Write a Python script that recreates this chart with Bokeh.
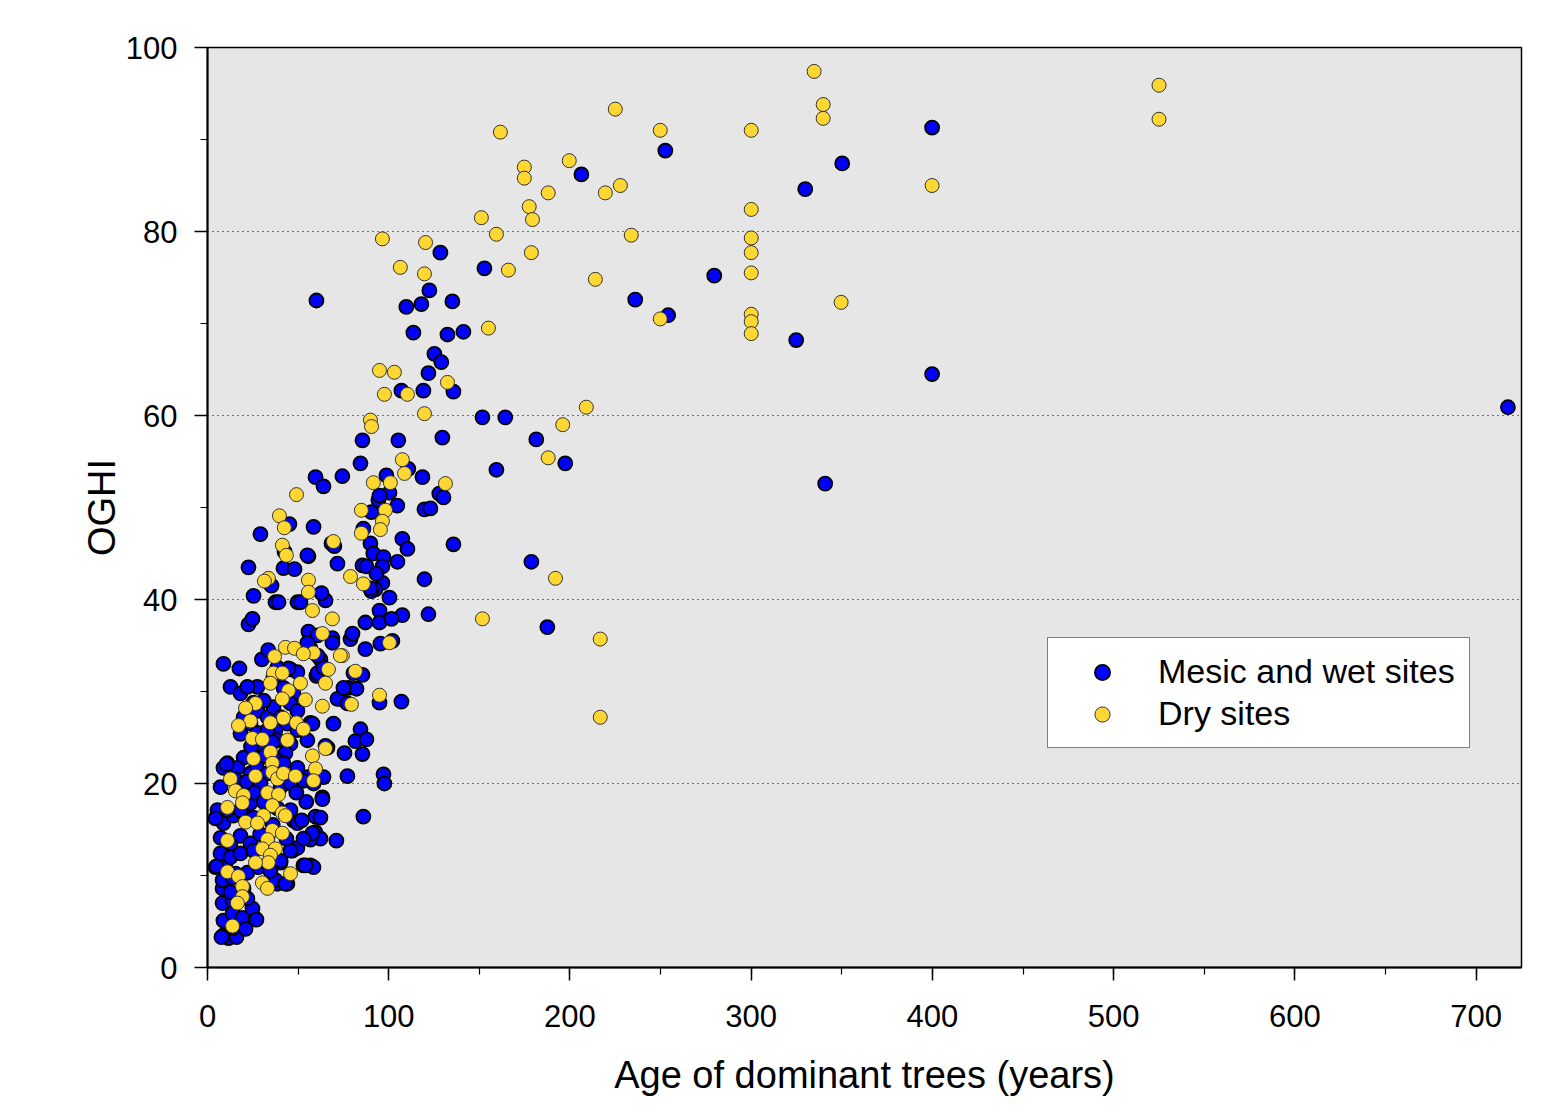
from bokeh.plotting import figure
from bokeh.models import ColumnDataSource, SingleIntervalTicker, Legend, LegendItem
from bokeh.embed import file_html
from bokeh.resources import INLINE

# Stand age (years) and OGHI score per site, split by moisture class.
mesic_sites = [
    # older stands
    (399.8, 91.3), (252.6, 88.8), (350.2, 87.4), (206.3, 86.2), (329.8, 84.6), (128.5, 77.7),
    (152.8, 76.0), (279.6, 75.2), (122.4, 73.6), (60.1, 72.5), (236.0, 72.6), (135.1, 72.4),
    (109.7, 71.8), (118.0, 72.1), (254.2, 70.9), (113.6, 69.0), (132.4, 68.8), (141.2, 69.1),
    (324.8, 68.2), (125.2, 66.7), (129.0, 65.8), (121.9, 64.6), (399.8, 64.5), (107.0, 62.7),
    (119.1, 62.7), (135.7, 62.6), (717.5, 60.9), (151.7, 59.8), (164.3, 59.8), (85.5, 57.3),
    (105.3, 57.3), (129.6, 57.6), (181.4, 57.4), (197.4, 54.8), (159.4, 54.1), (59.6, 53.3),
    (64.0, 52.3), (74.4, 53.4), (84.4, 54.8), (98.7, 53.5), (110.8, 54.2), (118.6, 53.3),
    (340.8, 52.6), (127.9, 51.5), (130.2, 51.1), (100.4, 51.6), (94.3, 50.8), (104.7, 50.2),
    (119.7, 49.8), (123.0, 49.9), (135.7, 46.0), (107.5, 46.6), (110.3, 45.5), (178.7, 44.1),
    (119.7, 42.2), (121.9, 38.4), (187.5, 37.0), (107.0, 28.9), (86.0, 16.4),
    # middle-aged stands
    (22.6, 37.3), (24.8, 37.9), (25.4, 40.4), (22.6, 43.5), (29.2, 47.1), (37.5, 39.7),
    (39.2, 39.7), (49.6, 39.7), (51.3, 39.7), (65.1, 39.9), (62.9, 40.7), (55.7, 44.7),
    (41.9, 43.4), (48.0, 43.3), (35.3, 41.5), (58.5, 47.9), (45.2, 48.2), (71.7, 43.9),
    (69.5, 45.9), (55.7, 36.5), (68.9, 35.8), (60.1, 31.7), (62.3, 33.5), (45.8, 32.4),
    (86.0, 47.7), (89.9, 46.1), (91.5, 45.0), (97.1, 44.6), (104.8, 44.1), (96.5, 41.8),
    (100.4, 40.2), (94.9, 38.8), (107.5, 38.3), (94.9, 37.5), (101.5, 37.9), (87.1, 37.5),
    (87.1, 34.6), (95.4, 35.2), (102.0, 35.5), (78.9, 35.7), (80.0, 36.3), (90.4, 49.5),
    (96.5, 43.6), (92.6, 41.1), (90.4, 40.9), (85.5, 43.7), (87.7, 43.6), (93.2, 42.8),
    (94.9, 51.3), (42.5, 45.2), (55.1, 44.8), (68.4, 46.1), (70.0, 45.8), (89.9, 41.2),
    (60.7, 36.1), (80.5, 32.0), (85.5, 31.8), (77.8, 30.4), (82.2, 30.3), (94.9, 28.8),
    (73.3, 29.2), (84.4, 25.9), (81.6, 24.6), (87.7, 24.8), (75.6, 23.3), (85.5, 23.2),
    (77.2, 20.8), (97.1, 21.0), (97.6, 20.0),
    # young stands
    (8.8, 33.0), (17.6, 32.5), (12.7, 30.5), (18.2, 29.8), (25.4, 28.8), (27.6, 27.9),
    (19.9, 27.2), (23.7, 26.5), (18.2, 25.4), (27.6, 25.5), (33.1, 27.2), (37.5, 25.8),
    (44.1, 26.5), (38.6, 24.7), (33.1, 24.3), (28.1, 23.9), (45.8, 24.3), (55.1, 24.7),
    (56.8, 26.6), (43.0, 23.3), (38.6, 22.5), (29.2, 22.8), (19.9, 22.8), (11.0, 22.2),
    (8.8, 21.7), (16.5, 21.7), (23.7, 21.1), (33.1, 21.1), (41.9, 22.2), (49.6, 21.7),
    (55.1, 20.7), (64.0, 20.7), (7.2, 19.6), (19.9, 19.6), (29.2, 20.0), (40.3, 19.6),
    (45.8, 20.0), (52.9, 20.3), (58.5, 20.0), (63.4, 18.5), (71.7, 29.2), (77.2, 28.7),
    (60.7, 32.0), (64.0, 32.6), (49.6, 32.1), (44.7, 32.5), (38.6, 32.6), (36.4, 31.5),
    (41.9, 30.4), (47.4, 29.8), (45.8, 28.7), (49.6, 27.9), (36.4, 28.3), (40.3, 27.2),
    (33.1, 25.8), (49.6, 25.8), (56.8, 34.7), (55.1, 35.3), (68.9, 35.3), (60.7, 33.9),
    (75.0, 30.4), (69.5, 26.5), (66.2, 23.9), (57.9, 26.5), (65.1, 24.1), (63.4, 18.3),
    (8.8, 3.5), (11.6, 3.2), (7.7, 3.3), (16.0, 3.3), (14.3, 4.3), (8.8, 5.1),
    (13.8, 5.9), (19.3, 5.4), (21.0, 4.2), (26.5, 5.3), (24.8, 6.4), (8.3, 7.0),
    (13.8, 7.3), (22.0, 7.5), (8.3, 8.6), (12.7, 8.2), (19.9, 8.6), (4.4, 10.9),
    (9.9, 11.3), (15.4, 10.2), (22.0, 10.3), (28.1, 10.9), (33.6, 11.3), (40.3, 11.4),
    (46.9, 12.7), (49.6, 13.0), (38.6, 9.1), (44.1, 9.1), (52.9, 11.1), (56.8, 11.1),
    (58.5, 10.9), (59.6, 16.4), (62.3, 16.3), (59.6, 14.7), (62.3, 14.0), (56.8, 13.9),
    (71.1, 13.8), (5.5, 16.2), (8.8, 15.7), (14.3, 16.5), (19.9, 16.7), (25.4, 16.3),
    (7.2, 14.1), (12.7, 13.5), (18.2, 14.3), (23.7, 13.5), (33.1, 14.1), (7.2, 12.4),
    (12.7, 12.0), (18.2, 12.4), (25.4, 12.7), (34.7, 12.4), (40.3, 11.6), (45.8, 12.7),
    (47.4, 16.0), (49.6, 15.7), (45.8, 17.1), (38.6, 17.3), (34.7, 17.6), (23.7, 17.9),
    (18.2, 17.1), (11.0, 17.1), (5.5, 17.1), (8.3, 9.5), (13.8, 9.8), (57.9, 14.6),
    (54.0, 11.1), (27.0, 5.2), (37.5, 9.5), (43.0, 9.1), (34.7, 10.5), (10.5, 22.1),
    (5.0, 11.0), (4.4, 16.2), (15.0, 20.5), (21.5, 20.2), (26.0, 19.0), (31.0, 18.0),
    (29.0, 14.5), (36.0, 15.5), (27.0, 22.0), (31.5, 23.0), (36.0, 24.5), (24.0, 24.0),
    (43.5, 14.0), (52.0, 16.0), (53.0, 14.0), (49.0, 19.0), (54.5, 18.0), (27.5, 30.5),
    (31.0, 29.0), (22.0, 30.5), (30.0, 33.5), (33.5, 34.5),
]

dry_sites = [
    # older stands
    (334.7, 97.4), (525.0, 95.9), (525.0, 92.2), (339.7, 93.8), (339.7, 92.3), (225.0, 93.3),
    (161.6, 90.8), (249.8, 91.0), (300.0, 91.0), (174.8, 87.0), (174.8, 85.8), (199.6, 87.7),
    (188.0, 84.2), (219.5, 84.2), (227.8, 85.0), (399.8, 85.0), (177.5, 82.7), (179.3, 81.3),
    (151.1, 81.5), (300.0, 82.4), (159.4, 79.7), (233.8, 79.6), (300.0, 79.3), (96.5, 79.2),
    (120.3, 78.8), (178.7, 77.7), (300.0, 77.7), (106.4, 76.1), (166.0, 75.8), (119.7, 75.4),
    (300.0, 75.5), (214.0, 74.8), (349.6, 72.3), (300.0, 71.0), (300.0, 70.2), (249.8, 70.5),
    (300.0, 68.9), (155.0, 69.5), (94.9, 64.9), (103.1, 64.7), (132.4, 63.6), (97.6, 62.3),
    (110.3, 62.3), (119.7, 60.2), (209.0, 60.9), (89.9, 59.5), (90.5, 58.8), (196.0, 59.0),
    (188.0, 55.4), (107.5, 55.2), (108.7, 53.7), (91.5, 52.7), (100.9, 52.7), (131.3, 52.6),
    (49.1, 51.4), (84.9, 49.7), (98.2, 49.7), (39.7, 49.1), (96.5, 48.5), (42.4, 47.8),
    (95.4, 47.6), (84.9, 47.2), (69.5, 46.3), (41.3, 45.9), (43.5, 44.8), (33.6, 42.3),
    (192.0, 42.3), (55.7, 42.1), (78.9, 42.5), (31.4, 42.0), (86.0, 41.7), (55.7, 40.8),
    (57.9, 38.8), (68.9, 37.9), (151.7, 37.9), (216.7, 35.7), (100.4, 35.3), (94.9, 29.6),
    (216.7, 27.2), (63.4, 36.3), (43.0, 34.8), (48.0, 34.7), (81.6, 32.2), (79.4, 28.6),
    (74.4, 33.9),
    # younger stands
    (58.5, 34.2), (52.9, 34.1), (37.0, 33.8), (73.3, 33.9), (66.7, 32.4), (36.4, 32.0),
    (41.3, 32.0), (65.1, 30.9), (51.3, 30.9), (34.7, 30.9), (44.7, 30.1), (41.3, 29.2),
    (54.0, 29.1), (63.4, 28.4), (26.5, 28.7), (21.0, 28.2), (23.7, 26.8), (34.7, 26.6),
    (41.9, 27.1), (49.1, 26.6), (52.9, 25.9), (17.1, 26.3), (24.8, 24.9), (30.3, 24.8),
    (44.1, 24.7), (34.7, 23.4), (25.4, 22.7), (57.9, 23.0), (59.6, 21.6), (65.1, 23.8),
    (35.8, 22.2), (35.8, 21.2), (38.6, 20.5), (41.9, 21.1), (48.5, 20.8), (58.5, 20.3),
    (12.7, 20.5), (15.4, 19.2), (19.9, 18.7), (26.5, 20.8), (33.1, 19.0), (39.2, 18.8),
    (11.0, 17.4), (19.3, 17.9), (35.8, 17.6), (41.3, 16.8), (43.0, 16.5), (30.9, 16.5),
    (21.0, 15.8), (27.6, 15.7), (35.8, 14.9), (41.3, 14.6), (33.1, 13.9), (30.3, 12.9),
    (37.5, 12.9), (34.7, 12.2), (33.6, 11.4), (11.0, 13.8), (26.5, 11.4), (11.0, 10.4),
    (17.1, 9.9), (45.8, 10.2), (30.3, 9.2), (33.1, 8.6), (19.3, 8.8), (19.3, 7.7),
    (16.5, 7.0), (13.8, 4.5),
]

series_labels = ["Mesic and wet sites", "Dry sites"]
x_ticks_step = 100
y_ticks_step = 20

FONT = "Liberation Sans"

mesic_src = ColumnDataSource(dict(age=[a for a, _ in mesic_sites], oghi=[o for _, o in mesic_sites]))
dry_src = ColumnDataSource(dict(age=[a for a, _ in dry_sites], oghi=[o for _, o in dry_sites]))

p = figure(
    width=1558, height=1117,
    x_range=(0, 725), y_range=(0, 100),
    output_backend="svg", toolbar_location=None,
    min_border_left=207, min_border_right=37, min_border_top=47, min_border_bottom=150,
)
p.background_fill_color = "#e6e6e6"
p.border_fill_color = "white"
p.outline_line_color = "black"
p.outline_line_width = 1.5

mesic_r = p.scatter("age", "oghi", source=mesic_src, size=14, marker="circle",
                    fill_color="#0000ff", line_color="black", line_width=1.8)
dry_r = p.scatter("age", "oghi", source=dry_src, size=14, marker="circle",
                  fill_color="#ffd733", line_color="#333333", line_width=1.0)

# axes
p.xaxis.ticker = SingleIntervalTicker(interval=x_ticks_step, num_minor_ticks=2)
p.yaxis.ticker = SingleIntervalTicker(interval=y_ticks_step, num_minor_ticks=2)
p.xaxis.axis_label = "Age of dominant trees (years)"
p.yaxis.axis_label = "OGHI"
for ax in (p.xaxis[0], p.yaxis[0]):
    ax.axis_line_width = 2
    ax.axis_line_color = "black"
    ax.major_tick_out = 13
    ax.major_tick_in = 0
    ax.minor_tick_out = 7
    ax.minor_tick_in = 0
    ax.major_tick_line_width = 1.5
    ax.minor_tick_line_width = 1.2
    ax.major_tick_line_color = "black"
    ax.minor_tick_line_color = "black"
    ax.major_label_text_font = FONT
    ax.major_label_text_font_size = "31px"
    ax.major_label_text_color = "black"
    ax.axis_label_text_font = FONT
    ax.axis_label_text_font_size = "38px"
    ax.axis_label_text_font_style = "normal"
    ax.axis_label_text_color = "black"
p.xaxis.major_label_standoff = 24
p.yaxis.major_label_standoff = 17
p.xaxis.axis_label_standoff = 24
p.yaxis.axis_label_standoff = 0

p.xgrid.visible = False
p.ygrid.grid_line_color = "black"
p.ygrid.grid_line_width = 1
p.ygrid.grid_line_dash = "1 4"

legend = Legend(
    items=[LegendItem(label=series_labels[0], renderers=[mesic_r]),
           LegendItem(label=series_labels[1], renderers=[dry_r])],
    location=(840, 219),
    background_fill_color="white", background_fill_alpha=1.0,
    border_line_color="black", border_line_width=1.5,
    label_text_font=FONT, label_text_font_size="34px", label_text_color="black",
    padding=14, spacing=3, margin=0,
    glyph_width=80, glyph_height=38, label_height=38, label_standoff=16,
)
p.add_layout(legend, "center")

open("out.html", "w").write(file_html(p, INLINE))
